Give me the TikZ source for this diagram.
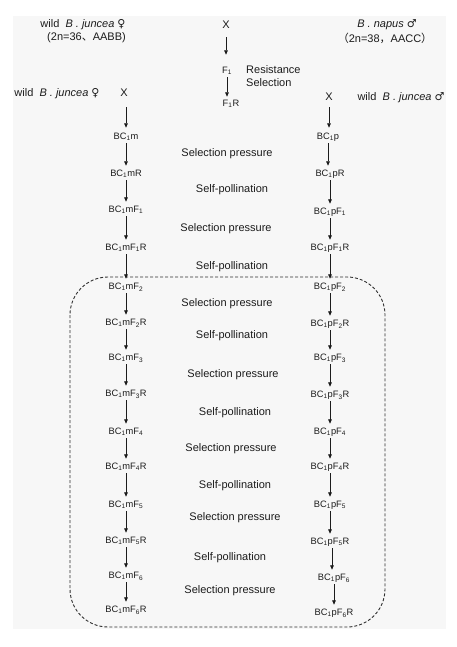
\documentclass[tikz,border=0pt]{standalone}
\usepackage{fontspec}
\setmainfont{Liberation Sans}
\newfontfamily\symf{DejaVu Sans}
\newfontfamily\cjk{Noto Sans CJK SC}
\usetikzlibrary{arrows.meta,calc}
\definecolor{bg}{HTML}{F7F7F7}
\definecolor{ink}{HTML}{1C1C1C}
\definecolor{dashc}{HTML}{303030}
\begin{document}
\begin{tikzpicture}[x=1pt,y=-1pt,
  nd/.style={inner sep=0pt,outer sep=2pt,text height=6.8pt,text depth=1.6pt,
    font=\fontsize{9.3}{10}\selectfont,text=ink},
  xnd/.style={nd,font=\fontsize{11}{12}\selectfont},
  lbl/.style={inner sep=0pt,font=\fontsize{11}{13}\selectfont,text=ink},
  top/.style={inner sep=0pt,font=\fontsize{11}{13}\selectfont,text=ink},
  arr/.style={-{Triangle[length=4.5pt,width=3.6pt]},line width=0.8pt,draw=ink,shorten >=2pt}]
\useasboundingbox (0,0) rectangle (456,647);
\fill[bg] (13,16) rectangle (446,629);
% dashed box
\draw[dashc,line width=0.9pt,dash pattern=on 3pt off 2pt,rounded corners=38pt] (70,277) rectangle (385,627);
% top row
\node[top] (pf) at (83,25) {wild\ \ \textit{B . juncea} {\symf ♀}};
\node[top] (pf2) at (85,38) {\ (2n=36{\cjk 、}AABB)};
\node[xnd] (x0) at (226,26) {X};
\node[top] (pm) at (387,25) {\textit{B . napus} {\symf ♂}};
\node[top] (pm2) at (385,38) {{\cjk （}2n=38{\cjk ，}AACC{\cjk ）}};
\node[nd] (f1) at (227,71) {F\textsubscript{1}};
\node[lbl,anchor=west,align=left] (rs) at (246,76) {Resistance\\Selection};
\node[nd] (f1r) at (231,104) {F\textsubscript{1}R};
% second crosses
\node[top] (wl) at (57,94) {wild\ \ \textit{B . juncea} {\symf ♀}};
\node[xnd] (xl) at (124,94) {X};
\node[xnd] (xr) at (329,98) {X};
\node[top] (wr) at (401,98) {wild\ \ \textit{B . juncea} {\symf ♂}};
% left column
\node[nd] (m0) at (126,137) {BC\textsubscript{1}m};
\node[nd] (m1) at (126,174) {BC\textsubscript{1}mR};
\node[nd] (m2) at (126,210) {BC\textsubscript{1}mF\textsubscript{1}};
\node[nd] (m3) at (126,248) {BC\textsubscript{1}mF\textsubscript{1}R};
\node[nd] (m4) at (126,287) {BC\textsubscript{1}mF\textsubscript{2}};
\node[nd] (m5) at (126,323) {BC\textsubscript{1}mF\textsubscript{2}R};
\node[nd] (m6) at (126,358) {BC\textsubscript{1}mF\textsubscript{3}};
\node[nd] (m7) at (126,394) {BC\textsubscript{1}mF\textsubscript{3}R};
\node[nd] (m8) at (126,432) {BC\textsubscript{1}mF\textsubscript{4}};
\node[nd] (m9) at (126,467) {BC\textsubscript{1}mF\textsubscript{4}R};
\node[nd] (m10) at (126,505) {BC\textsubscript{1}mF\textsubscript{5}};
\node[nd] (m11) at (126,541) {BC\textsubscript{1}mF\textsubscript{5}R};
\node[nd] (m12) at (126,576) {BC\textsubscript{1}mF\textsubscript{6}};
\node[nd] (m13) at (126,610) {BC\textsubscript{1}mF\textsubscript{6}R};
% right column
\node[nd] (p0) at (328,137) {BC\textsubscript{1}p};
\node[nd] (p1) at (330,174) {BC\textsubscript{1}pR};
\node[nd] (p2) at (330,212) {BC\textsubscript{1}pF\textsubscript{1}};
\node[nd] (p3) at (330,248) {BC\textsubscript{1}pF\textsubscript{1}R};
\node[nd] (p4) at (330,287) {BC\textsubscript{1}pF\textsubscript{2}};
\node[nd] (p5) at (330,324) {BC\textsubscript{1}pF\textsubscript{2}R};
\node[nd] (p6) at (330,358) {BC\textsubscript{1}pF\textsubscript{3}};
\node[nd] (p7) at (330,395) {BC\textsubscript{1}pF\textsubscript{3}R};
\node[nd] (p8) at (330,432) {BC\textsubscript{1}pF\textsubscript{4}};
\node[nd] (p9) at (330,467) {BC\textsubscript{1}pF\textsubscript{4}R};
\node[nd] (p10) at (330,505) {BC\textsubscript{1}pF\textsubscript{5}};
\node[nd] (p11) at (330,542) {BC\textsubscript{1}pF\textsubscript{5}R};
\node[nd] (p12) at (334,578) {BC\textsubscript{1}pF\textsubscript{6}};
\node[nd] (p13) at (334,613) {BC\textsubscript{1}pF\textsubscript{6}R};
% middle labels
\node[lbl] (s0) at (227,154) {Selection pressure};
\node[lbl] (s1) at (232,190) {Self-pollination};
\node[lbl] (s2) at (226,229) {Selection pressure};
\node[lbl] (s3) at (232,267) {Self-pollination};
\node[lbl] (s4) at (227,304) {Selection pressure};
\node[lbl] (s5) at (232,336) {Self-pollination};
\node[lbl] (s6) at (233,375) {Selection pressure};
\node[lbl] (s7) at (235,413) {Self-pollination};
\node[lbl] (s8) at (231,449) {Selection pressure};
\node[lbl] (s9) at (235,486) {Self-pollination};
\node[lbl] (s10) at (235,518) {Selection pressure};
\node[lbl] (s11) at (230,558) {Self-pollination};
\node[lbl] (s12) at (230,591) {Selection pressure};
% top arrows
\draw[arr,shorten <=5pt,shorten >=10pt] (x0.south) -- (x0.south |- f1.north);
\draw[arr,shorten >=1pt] (f1.south) -- (f1.south |- f1r.north);
\draw[arr,shorten <=7pt,shorten >=3pt] (xl.south -| m0.south) -- (m0.north);
\draw[arr,shorten <=3pt,shorten >=3pt] (xr.south) -- (xr.south |- p0.north);
% column arrows
\foreach \a/\b in {m0/m1,m1/m2,m2/m3,m3/m4,m4/m5,m5/m6,m6/m7,m7/m8,m8/m9,m9/m10,m10/m11,m11/m12,m12/m13}{
  \draw[arr] (\a.south) -- (\a.south |- \b.north);
}
\foreach \a/\b in {p0/p1,p1/p2,p2/p3,p3/p4,p4/p5,p5/p6,p6/p7,p7/p8,p8/p9,p9/p10,p10/p11}{
  \draw[arr] (\a.south) -- (\a.south |- \b.north);
}
\coordinate (q11) at ($(p11.south)+(2,0)$);
\draw[arr] (q11) -- (q11 |- p12.north);
\draw[arr] (p12.south) -- (p12.south |- p13.north);
\end{tikzpicture}
\end{document}
